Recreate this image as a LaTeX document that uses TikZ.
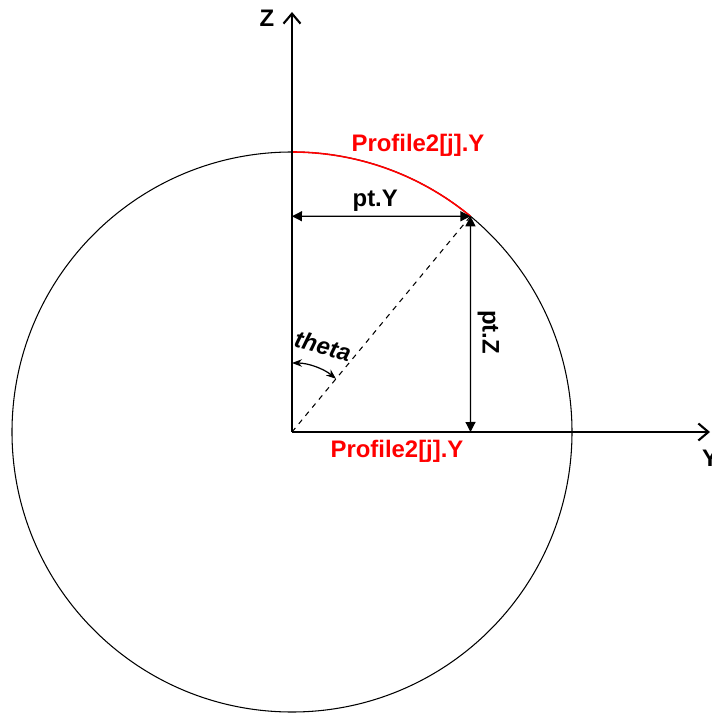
\documentclass[tikz,border=0pt]{standalone}
\usepackage{fontspec}
\setmainfont{Liberation Sans}
\usetikzlibrary{arrows.meta, positioning, calc}

\begin{document}
\begin{tikzpicture}[
  lbl/.style={font=\fontsize{13.6}{16}\selectfont\bfseries},
  axis/.style={line width=0.9pt, -{Straight Barb[length=2mm, width=3.4mm, line width=1.2pt]}},
  dim/.style={line width=0.7pt, {Triangle[length=2mm, width=2mm]}-{Triangle[length=2mm, width=2mm]}},
]
\useasboundingbox (-5.84,-5.62) rectangle (8.38,8.64);

\coordinate (O) at (0,0);
\coordinate (P) at (50.4:5.6);
\coordinate (Pz) at (0,4.315);
\coordinate (Py) at (3.57,0);

% circle and axes
\draw[line width=0.6pt] (O) circle (5.6);
\draw[red, line width=0.9pt] (O) -- (3.94,0);
\draw[red, line width=0.9pt] (0,5.6) arc (90:50.4:5.6);
\draw[axis] (O) -- (0,8.4) coordinate (Ztip);
\draw[axis] (O) -- (8.36,0) coordinate (Ytip);
\node[lbl] (Z) at (-0.5,8.28) {Z};
\node[lbl] (Y) at (8.36,-0.52) {Y};

% point and dimensions
\draw[dashed, line width=0.6pt] (O) -- (P);
\draw[dim] (Pz) -- (P) node[lbl, midway, above=-1pt, xshift=-0.12cm] (ptY) {pt.Y};
\draw[dim] (P) -- (Py) node[lbl, midway, right=-1pt, rotate=-90, anchor=south, yshift=0.05cm, xshift=0.16cm] (ptZ) {pt.Z};

\node[lbl, red] (prof1) at (2.52,5.74) {Profile2[j].Y};
\node[lbl, red] (prof2) at (2.1,-0.38) {Profile2[j].Y};

% angle
\draw[line width=0.7pt, {Stealth[length=2mm]}-{Stealth[length=2mm]}] (90:1.38) arc (90:50.4:1.38);
\node[lbl, font=\fontsize{13.6}{16}\selectfont\bfseries\itshape, rotate=-15] (theta) at (0.62,1.72) {theta};
\end{tikzpicture}
\end{document}
